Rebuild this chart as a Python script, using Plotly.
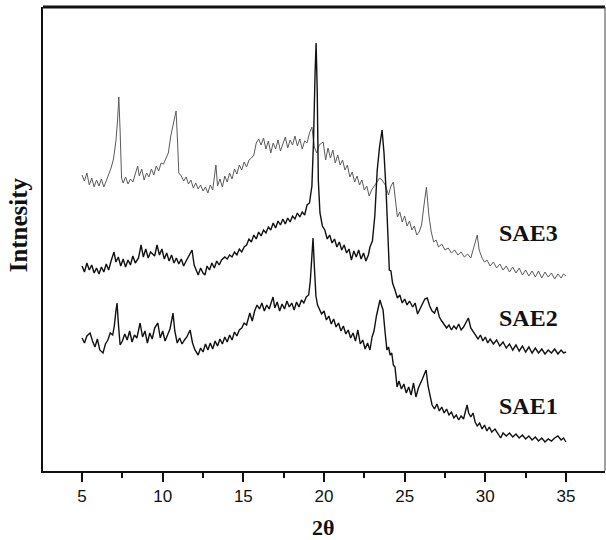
import plotly.graph_objects as go

# ---- data (2-theta in degrees, intensity in arbitrary units, curves offset as in the figure) ----
sae3_x = [5.0,5.15,5.3,5.45,5.6,5.75,5.9,6.05,6.2,6.35,6.5,6.65,6.8,6.95,7.1,7.2,7.28,7.36,7.45,7.55,
          7.7,7.85,8.0,8.15,8.3,8.45,8.55,8.7,8.85,9.0,9.15,9.3,9.45,9.6,9.75,9.9,10.05,10.2,10.35,10.5,
          10.65,10.75,10.83,10.92,11.0,11.15,11.3,11.45,11.6,11.75,11.9,12.05,12.2,12.35,12.5,12.65,12.8,12.95,13.1,13.25,
          13.3,13.4,13.55,13.7,13.85,14.0,14.15,14.3,14.45,14.6,14.75,14.9,15.05,15.2,15.35,15.5,15.65,15.8,15.95,16.1,
          16.25,16.4,16.55,16.7,16.85,17.0,17.15,17.3,17.45,17.6,17.75,17.9,18.05,18.2,18.35,18.5,18.65,18.8,18.95,19.1,
          19.25,19.4,19.55,19.7,19.95,20.1,20.25,20.4,20.55,20.7,20.85,21.0,21.15,21.3,21.45,21.6,21.75,21.9,22.05,22.2,
          22.35,22.5,22.65,22.8,22.95,23.1,23.25,23.45,23.6,23.8,24.0,24.15,24.3,24.42,24.55,24.7,24.85,25.0,25.15,25.3,
          25.45,25.6,25.75,25.9,26.05,26.2,26.35,26.5,26.65,26.8,26.95,27.1,27.3,27.5,27.7,27.9,28.1,28.3,28.5,28.7,
          28.9,29.1,29.25,29.4,29.5,29.62,29.8,29.95,30.1,30.3,30.5,30.7,30.9,31.1,31.3,31.5,31.7,31.9,32.1,32.3,
          32.5,32.7,32.9,33.1,33.3,33.5,33.7,33.9,34.1,34.3,34.5,34.7,34.85,35.0]
sae3_y = [296,290,298,286,293,284,291,285,292,284,290,296,303,312,330,350,374,340,293,288,
          294,287,292,289,298,305,295,302,291,298,294,302,296,305,300,308,307,312,318,335,
          345,352,360,330,298,295,290,294,287,291,283,288,282,286,280,284,278,286,281,300,
          306,285,292,284,295,289,298,292,302,297,306,301,309,304,311,313,316,328,332,326,
          333,322,330,318,328,322,331,320,327,334,323,331,326,335,325,332,322,330,328,338,
          344,324,318,326,329,311,323,313,321,308,316,306,311,301,306,294,299,289,295,286,
          291,281,285,275,281,285,289,293,291,286,276,285,289,271,254,259,249,255,245,250,
          241,245,236,239,246,266,284,256,239,229,231,224,227,221,223,218,221,216,219,214,
          217,213,221,231,236,221,213,209,211,205,209,203,207,201,205,199,204,198,203,196,
          201,195,200,194,200,193,199,194,198,192,197,193,197,195]

sae2_x = [5.0,5.15,5.3,5.45,5.6,5.75,5.9,6.05,6.2,6.35,6.5,6.65,6.8,6.98,7.1,7.25,7.4,7.55,7.7,7.85,
          8.0,8.15,8.3,8.5,8.66,8.8,8.95,9.1,9.25,9.5,9.65,9.8,9.95,10.1,10.25,10.4,10.55,10.7,10.85,11.0,
          11.15,11.3,11.45,11.82,11.95,12.1,12.2,12.35,12.5,12.62,12.75,12.9,13.05,13.2,13.35,13.5,13.65,13.85,14.0,14.15,
          14.3,14.45,14.6,14.75,14.9,15.05,15.2,15.35,15.5,15.65,15.8,15.95,16.1,16.25,16.4,16.55,16.7,16.85,17.0,17.15,
          17.3,17.45,17.6,17.75,17.9,18.05,18.2,18.35,18.5,18.65,18.8,18.95,19.1,19.25,19.35,19.45,19.51,19.58,19.65,19.75,
          19.9,20.05,20.2,20.35,20.5,20.65,20.8,20.95,21.1,21.25,21.4,21.55,21.7,21.85,22.0,22.15,22.3,22.45,22.6,22.75,
          22.85,23.0,23.15,23.3,23.45,23.6,23.72,23.85,23.95,24.05,24.15,24.25,24.4,24.55,24.7,24.85,25.0,25.15,25.3,25.5,
          25.65,25.8,25.95,26.1,26.25,26.4,26.55,26.7,26.85,27.0,27.15,27.3,27.45,27.6,27.75,27.9,28.05,28.2,28.35,28.5,
          28.65,28.8,28.95,29.1,29.25,29.4,29.55,29.7,29.85,30.0,30.15,30.3,30.5,30.7,30.9,31.1,31.3,31.5,31.7,31.9,
          32.1,32.3,32.5,32.7,32.9,33.1,33.3,33.5,33.7,33.9,34.1,34.3,34.5,34.7,34.85,35.0]
sae2_y = [205,199,208,201,206,198,203,197,204,199,207,201,210,219,209,214,205,212,204,211,
          206,215,208,213,226,214,222,213,219,215,226,216,222,212,218,210,216,208,213,207,
          212,205,210,221,206,200,196,203,198,196,205,201,208,203,210,206,211,214,212,216,
          214,219,216,222,219,224,226,232,229,236,232,239,235,241,238,244,241,248,243,250,
          246,252,247,253,249,255,252,258,254,259,256,266,268,285,330,400,428,380,290,258,
          245,241,232,236,228,232,224,229,221,226,218,222,211,220,214,221,212,218,210,216,
          224,230,255,301,325,341,318,280,240,201,200,188,181,173,176,168,172,166,170,164,
          168,157,162,168,172,173,165,160,158,164,154,150,146,143,146,141,145,142,147,141,
          144,148,153,143,139,135,132,136,130,134,128,132,127,131,125,129,123,127,121,126,
          120,125,119,124,118,123,118,122,117,121,118,122,117,121,118,119]

sae1_x = [5.0,5.15,5.3,5.5,5.65,5.8,5.95,6.1,6.3,6.45,6.6,6.75,6.9,7.0,7.1,7.17,7.25,7.36,7.5,7.65,
          7.8,7.95,8.1,8.25,8.4,8.6,8.75,8.9,9.05,9.2,9.35,9.5,9.7,9.85,10.0,10.15,10.3,10.45,10.55,10.64,
          10.75,10.9,11.05,11.2,11.35,11.5,11.7,11.85,12.0,12.2,12.35,12.5,12.65,12.8,12.95,13.1,13.25,13.4,13.55,13.7,
          13.85,14.0,14.15,14.3,14.45,14.6,14.75,14.9,15.05,15.2,15.4,15.55,15.7,15.85,16.0,16.15,16.3,16.45,16.6,16.75,
          16.84,16.95,17.1,17.25,17.4,17.55,17.7,17.85,18.0,18.15,18.3,18.45,18.6,18.75,18.9,19.05,19.15,19.25,19.32,19.4,
          19.5,19.6,19.7,19.85,20.0,20.15,20.3,20.45,20.6,20.75,20.9,21.05,21.2,21.35,21.5,21.65,21.8,21.95,22.1,22.25,
          22.4,22.55,22.7,22.85,22.98,23.1,23.25,23.4,23.47,23.58,23.66,23.78,23.9,24.0,24.1,24.2,24.3,24.4,24.53,24.65,
          24.8,24.95,25.1,25.25,25.4,25.55,25.7,25.85,25.95,26.1,26.25,26.33,26.45,26.57,26.7,26.85,27.0,27.15,27.3,27.45,
          27.6,27.75,27.9,28.05,28.2,28.35,28.5,28.65,28.78,28.87,28.97,29.1,29.24,29.37,29.5,29.65,29.8,29.95,30.1,30.25,
          30.4,30.6,30.8,30.95,31.1,31.3,31.5,31.7,31.9,32.1,32.3,32.5,32.7,32.9,33.1,33.3,33.5,33.7,33.9,34.1,
          34.3,34.5,34.7,34.85,35.0]
sae1_y = [133,128,135,138,130,124,132,121,118,127,131,138,136,145,160,168,148,126,130,137,
          131,140,129,136,133,148,134,140,128,138,132,143,148,133,140,130,136,142,150,158,
          140,128,133,127,131,134,141,128,121,116,123,119,127,121,128,122,130,125,132,127,
          134,129,136,131,139,135,141,143,148,146,158,150,160,166,162,168,160,166,162,170,
          174,163,169,160,167,162,170,164,168,161,169,164,171,168,174,176,190,215,233,205,
          175,166,162,157,160,151,155,147,152,144,148,140,145,137,141,133,138,130,141,127,
          131,122,128,121,134,140,155,168,171,165,161,140,121,124,116,118,106,104,84,90,
          82,87,78,84,76,88,74,83,86,92,98,101,85,74,66,62,67,60,64,58,
          62,56,59,53,56,51,55,52,60,66,58,54,58,49,45,48,42,46,40,44,
          39,42,37,33,38,35,38,34,37,33,36,32,35,31,34,30,33,29,32,30,
          33,35,31,33,29]

tick_vals = [5, 10, 15, 20, 25, 30, 35]
tick_text = ["5", "10", "15", "20", "25", "30", "35"]
series_labels = ["SAE3", "SAE2", "SAE1"]
label_pos_x = [32.65, 32.65, 32.65]
label_pos_y = [238, 153, 65]

fig = go.Figure()
fig.add_trace(go.Scatter(x=sae3_x, y=sae3_y, mode="lines", name="SAE3",
                         line=dict(color="#5a5a5a", width=1)))
fig.add_trace(go.Scatter(x=sae2_x, y=sae2_y, mode="lines", name="SAE2",
                         line=dict(color="#111111", width=1.4)))
fig.add_trace(go.Scatter(x=sae1_x, y=sae1_y, mode="lines", name="SAE1",
                         line=dict(color="#111111", width=1.4)))

for t, lx, ly in zip(series_labels, label_pos_x, label_pos_y):
    fig.add_annotation(x=lx, y=ly, xref="x", yref="y", text="<b>%s</b>" % t, showarrow=False,
                       font=dict(family="Liberation Serif", size=24, color="#111111"),
                       xanchor="center", yanchor="middle")

fig.add_annotation(x=19.95, y=-0.121, xref="x", yref="paper", text="<b>2θ</b>", showarrow=False,
                   font=dict(family="Liberation Serif", size=22, color="#111111"),
                   xanchor="center", yanchor="middle")
fig.add_annotation(x=-0.044, y=0.53, xref="paper", yref="paper", text="<b>Intnesity</b>", showarrow=False,
                   textangle=-90, font=dict(family="Liberation Serif", size=25, color="#111111"),
                   xanchor="center", yanchor="middle")

# frame: thick top line, thin right line
fig.add_shape(type="line", xref="paper", yref="paper", x0=0, x1=1, y0=1, y1=1,
              line=dict(color="#111111", width=3))
fig.add_shape(type="line", xref="paper", yref="paper", x0=1, x1=1, y0=0, y1=1,
              line=dict(color="#444444", width=1))

fig.update_layout(
    width=606, height=540,
    margin=dict(l=43, r=1, t=7, b=69),
    paper_bgcolor="white", plot_bgcolor="white",
    showlegend=False,
    xaxis=dict(range=[2.58, 37.42], showgrid=False, zeroline=False,
               showline=True, linecolor="#111111", linewidth=2,
               tickmode="array", tickvals=tick_vals, ticktext=tick_text,
               ticks="outside", ticklen=9, tickwidth=2, tickcolor="#111111",
               tickfont=dict(family="Liberation Sans", size=17, color="#111111"),
               minor=dict(tick0=2.5, dtick=2.5, ticks="outside", ticklen=5, tickwidth=1.5,
                          tickcolor="#111111", showgrid=False)),
    yaxis=dict(range=[0, 464], showgrid=False, zeroline=False, showticklabels=False,
               showline=True, linecolor="#111111", linewidth=2, ticks=""),
)

fig.write_html("out.html", config={"displayModeBar": False},
               post_script="document.body.style.margin='0px';document.body.style.overflow='hidden';")
